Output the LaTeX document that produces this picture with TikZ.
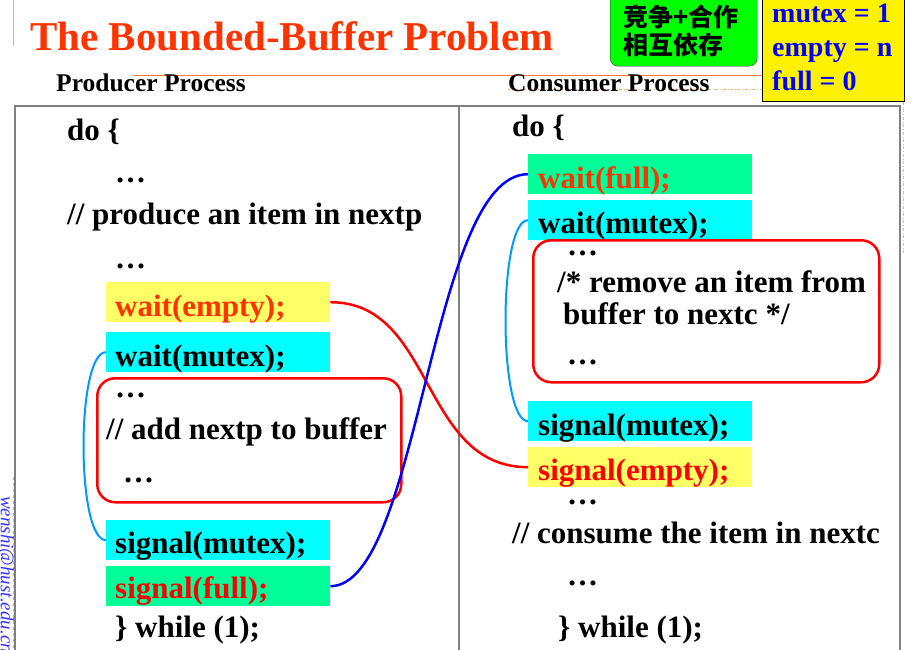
\documentclass[tikz,border=0pt]{standalone}
\usepackage{fontspec}
\setmainfont{Liberation Serif}
\newfontfamily\cjk{Noto Sans CJK SC}
\definecolor{titlered}{HTML}{FF3300}
\definecolor{lyellow}{HTML}{FFFF66}
\definecolor{spring}{HTML}{00FF99}
\definecolor{aqua}{HTML}{00FFFF}
\definecolor{lblue}{HTML}{0099FF}
\definecolor{lorange}{HTML}{FFB080}
\definecolor{orangeln}{HTML}{FF7733}
\definecolor{tgray}{HTML}{808080}
\definecolor{mailblue}{HTML}{3333FF}
\definecolor{kgreen}{HTML}{00FF00}
\begin{document}
\begin{tikzpicture}[x=1pt,y=-1pt,
  txt/.style={anchor=base west, inner sep=0pt, font=\bfseries\fontsize{31}{31}\selectfont},
  codebox/.style={anchor=north west, minimum width=224pt, minimum height=40pt, inner sep=0pt},
  ybox/.style={codebox, fill=lyellow},
  cbox/.style={codebox, fill=aqua},
  gbox/.style={codebox, fill=spring},
  region/.style={draw=red, line width=2.5pt, rounded corners=18pt, anchor=north west, inner sep=0pt},
  wire/.style={line width=2.5pt},
  sync/.style={draw=lblue, line width=2pt},
  legend/.style={anchor=base west, inner sep=0pt, text=blue, font=\bfseries\fontsize{28}{28}\selectfont}
]
\useasboundingbox (0,0) rectangle (914,649);
\fill[white] (0,0) rectangle (914,649);

% decorative orange lines
\draw[orangeln!60, line width=1pt] (13,0) -- (13,46);
\draw[orangeln, line width=1pt] (133,75) -- (762,75);
\draw[lorange, dash dot, line width=1pt] (508,89) -- (762,89);
\draw[lorange, dash dot, line width=1pt] (903,102) -- (903,253);
\draw[orangeln!70, dashed, line width=1pt] (13,477) -- (13,660);

% title and headers
\node[anchor=base west, inner sep=0pt, text=titlered, font=\bfseries\fontsize{41}{41}\selectfont] (title) at (30,50) {The Bounded-Buffer Problem};
\node[anchor=base west, inner sep=0pt, font=\bfseries\fontsize{25.5}{25.5}\selectfont] (prodhead) at (56,91) {Producer Process};
\node[anchor=base west, inner sep=0pt, font=\bfseries\fontsize{25.5}{25.5}\selectfont] (conshead) at (508,91) {Consumer Process};

% green note
\node[draw=black!80, fill=kgreen, rounded corners=8pt, anchor=north west, minimum width=147pt, minimum height=86pt, inner sep=0pt] (note) at (610,-20) {};
\node[anchor=base west, inner sep=0pt, font=\cjk\bfseries\fontsize{25}{25}\selectfont] (note1) at (623,26) {竞争+合作};
\node[anchor=base west, inner sep=0pt, font=\cjk\bfseries\fontsize{25}{25}\selectfont] (note2) at (623,54) {相互依存};

% legend
\node[draw=black, line width=1pt, fill=yellow, anchor=north west, minimum width=142pt, minimum height=111pt, inner sep=0pt] (leg) at (762,-10) {};
\node[legend] (leg1) at (772,22) {mutex = 1};
\node[legend] (leg2) at (772,56) {empty = n};
\node[legend] (leg3) at (772,90) {full = 0};

% table frame
\node[draw=tgray, line width=1.5pt, anchor=north west, minimum width=885pt, minimum height=580pt, inner sep=0pt] (frame) at (14,105) {};
\draw[tgray, line width=1.5pt] (459,105) -- (459,660);

% side mail text
\node[rotate=-90, anchor=base west, inner sep=0pt, text=mailblue, font=\itshape\fontsize{19}{19}\selectfont] (mail) at (1,496) {wenshi@hust.edu.cn};

% producer boxes
\node[ybox] (pwe) at (106,282) {};
\node[cbox] (pwm) at (106,332) {};
\node[cbox] (psm) at (106,520) {};
\node[gbox] (psf) at (106,566) {};
\node[region, minimum width=304pt, minimum height=124pt] (preg) at (96,377) {};

% consumer boxes
\node[gbox] (cwf) at (528,154) {};
\node[cbox] (cwm) at (528,200) {};
\node[cbox] (csm) at (528,401) {};
\node[ybox] (cse) at (528,447) {};
\node[region, minimum width=346pt, minimum height=142pt] (creg) at (532,239) {};

% producer text
\node[txt] (p1) at (67,140) {do \{};
\node[txt] (p2) at (115,182) {…};
\node[txt] (p3) at (67,224) {// produce an item in nextp};
\node[txt] (p4) at (115,268) {…};
\node[txt, text=titlered] (p5) at (115,316) {wait(empty);};
\node[txt] (p6) at (115,366) {wait(mutex);};
\node[txt] (p7) at (115,397) {…};
\node[txt] (p8) at (106,439) {// add nextp to buffer};
\node[txt] (p9) at (123,482) {…};
\node[txt] (p10) at (115,553) {signal(mutex);};
\node[txt, text=red] (p11) at (115,598) {signal(full);};
\node[txt] (p12) at (115,637) {\} while (1);};

% consumer text
\node[txt] (c1) at (512,136) {do \{};
\node[txt, text=titlered] (c2) at (538,188) {wait(full);};
\node[txt] (c3) at (538,233) {wait(mutex);};
\node[txt] (c4) at (567,255) {…};
\node[txt] (c5) at (557,292) {/* remove an item from};
\node[txt] (c6) at (563,324) {buffer to nextc */};
\node[txt] (c7) at (567,364) {…};
\node[txt] (c8) at (538,435) {signal(mutex);};
\node[txt, text=red] (c9) at (538,480) {signal(empty);};
\node[txt] (c10) at (567,504) {…};
\node[txt] (c11) at (512,543) {// consume the item in nextc};
\node[txt] (c12) at (567,585) {…};
\node[txt] (c13) at (558,637) {\} while (1);};

% connectors
\draw[sync] (pwm.west) .. controls (76,352) and (76,540) .. (psm.west);
\draw[sync] (cwm.west) .. controls (498,220) and (498,421) .. (csm.west);
\draw[wire, red] (pwe.east) .. controls (435,302) and (420,467) .. (cse.west);
\draw[wire, blue] (psf.east) .. controls (420,586) and (430,174) .. (cwf.west);
\end{tikzpicture}
\end{document}
